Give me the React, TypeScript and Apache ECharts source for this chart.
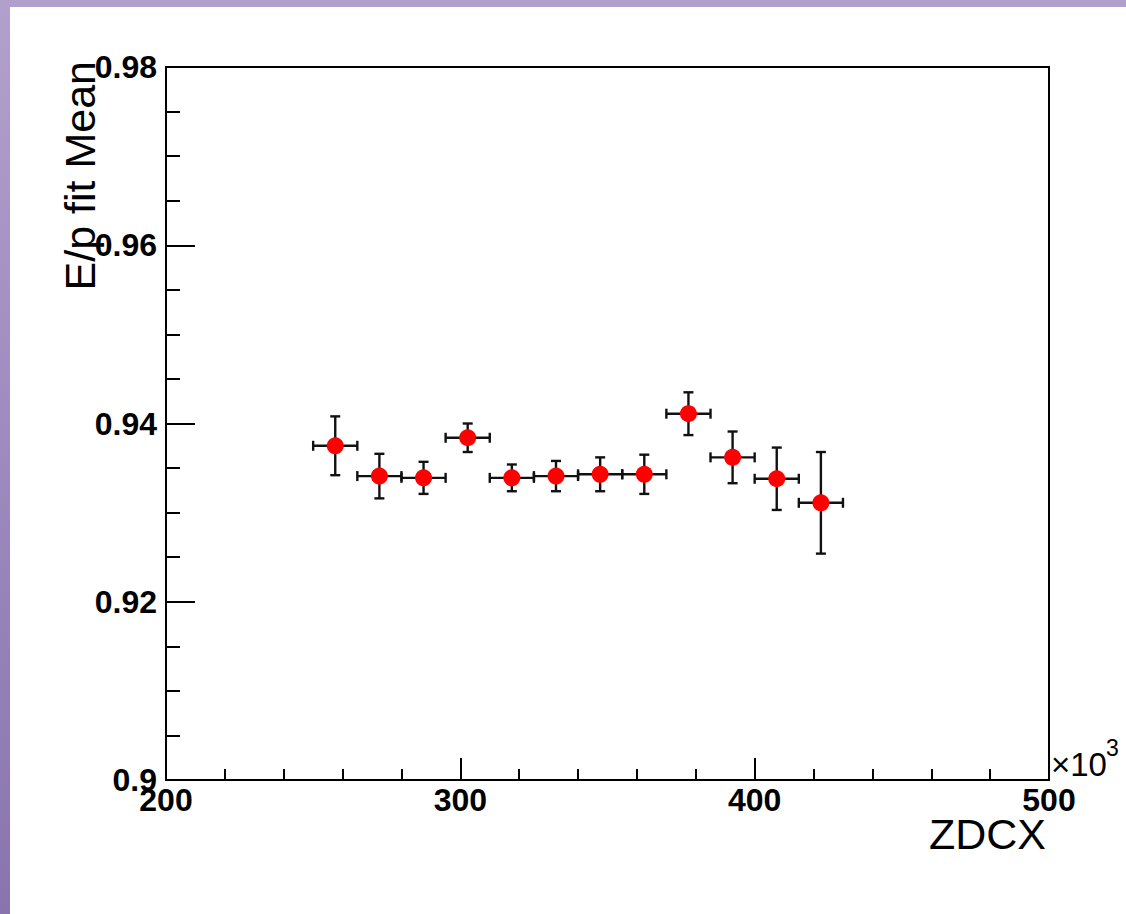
import React, { useEffect, useRef } from "react";
import * as echarts from "echarts";

// Data (x in units of 10^3, as on the axis)
const xCenters = [257.5, 272.5, 287.5, 302.5, 317.5, 332.5, 347.5, 362.5, 377.5, 392.5, 407.5, 422.5];
const xHalfWidths = [7.5, 7.5, 7.5, 7.5, 7.5, 7.5, 7.5, 7.5, 7.5, 7.5, 7.5, 7.5];
const yMeans = [0.9375, 0.9341, 0.9339, 0.9384, 0.9339, 0.9341, 0.9343, 0.9343, 0.9411, 0.9362, 0.9338, 0.9311];
const yErrors = [0.0033, 0.0025, 0.0018, 0.0016, 0.0015, 0.0017, 0.0019, 0.0022, 0.0024, 0.0029, 0.0035, 0.0057];

const xTitle = "ZDCX";
const yTitle = "E/p fit Mean";

export default function App() {
  const ref = useRef<HTMLDivElement>(null);

  useEffect(() => {
    if (!ref.current) return;
    const chart = echarts.init(ref.current, undefined, { renderer: "svg" });

    const errData = xCenters.map((x, i) => [x, yMeans[i], xHalfWidths[i], yErrors[i]]);
    const ptData = xCenters.map((x, i) => [x, yMeans[i]]);

    const cap = 5;
    const stroke = { stroke: "#111", lineWidth: 2.4 };

    chart.setOption({
      animation: false,
      backgroundColor: "#ffffff",
      grid: {
        left: 166,
        top: 67,
        width: 883,
        height: 713,
        show: true,
        borderColor: "#000",
        borderWidth: 2,
        backgroundColor: "transparent",
      },
      xAxis: {
        type: "value",
        min: 200,
        max: 500,
        interval: 100,
        axisLine: { show: true, onZero: false, lineStyle: { color: "#000", width: 2 } },
        axisTick: { show: true, inside: true, length: 22, lineStyle: { color: "#000", width: 2 } },
        minorTick: { show: true, splitNumber: 5, length: 11, lineStyle: { color: "#000", width: 2 } },
        splitLine: { show: false },
        axisLabel: {
          show: true,
          color: "#000",
          fontFamily: "Liberation Sans",
          fontWeight: "bold",
          fontSize: 32,
          margin: 4,
          showMinLabel: true,
          showMaxLabel: true,
        },
      },
      yAxis: {
        type: "value",
        min: 0.9,
        max: 0.98,
        interval: 0.02,
        axisLine: { show: true, onZero: false, lineStyle: { color: "#000", width: 2 } },
        axisTick: { show: true, inside: true, length: 29, lineStyle: { color: "#000", width: 2 } },
        minorTick: { show: true, splitNumber: 4, length: 14, lineStyle: { color: "#000", width: 2 } },
        splitLine: { show: false },
        axisLabel: {
          show: true,
          color: "#000",
          fontFamily: "Liberation Sans",
          fontWeight: "bold",
          fontSize: 32,
          margin: 9,
          showMinLabel: true,
          showMaxLabel: true,
          formatter: (v: number) => String(+v.toFixed(2)),
        },
      },
      graphic: [
        {
          type: "rect",
          left: 0,
          top: 0,
          shape: { x: 0, y: 0, width: 1126, height: 7 },
          style: { fill: "#b09ecb" },
          silent: true,
        },
        {
          type: "rect",
          left: 0,
          top: 0,
          shape: { x: 0, y: 0, width: 10, height: 914 },
          style: {
            fill: new echarts.graphic.LinearGradient(0, 0, 0, 1, [
              { offset: 0, color: "#b2a0cc" },
              { offset: 1, color: "#8a74ae" },
            ]),
          },
          silent: true,
        },
        {
          type: "text",
          x: 101,
          y: 61,
          rotation: Math.PI / 2,
          style: {
            text: yTitle,
            font: "43px 'Liberation Sans'",
            fill: "#000",
            align: "right",
            verticalAlign: "bottom",
          },
          silent: true,
        },
        {
          type: "text",
          x: 1046,
          y: 855,
          style: {
            text: xTitle,
            font: "43px 'Liberation Sans'",
            fill: "#000",
            align: "right",
            verticalAlign: "bottom",
          },
          silent: true,
        },
        {
          type: "text",
          x: 1051,
          y: 781,
          style: {
            text: "×10",
            font: "33px 'Liberation Sans'",
            fill: "#000",
            align: "left",
            verticalAlign: "bottom",
          },
          silent: true,
        },
        {
          type: "text",
          x: 1106,
          y: 736,
          style: {
            text: "3",
            font: "23px 'Liberation Sans'",
            fill: "#000",
            align: "left",
            verticalAlign: "top",
          },
          silent: true,
        },
      ],
      series: [
        {
          type: "custom",
          data: errData,
          z: 2,
          renderItem: (params: any, api: any) => {
            const x = api.value(0);
            const y = api.value(1);
            const ex = api.value(2);
            const ey = api.value(3);
            const pL = api.coord([x - ex, y]);
            const pR = api.coord([x + ex, y]);
            const pT = api.coord([x, y + ey]);
            const pB = api.coord([x, y - ey]);
            return {
              type: "group",
              children: [
                { type: "line", shape: { x1: pL[0], y1: pL[1], x2: pR[0], y2: pR[1] }, style: stroke },
                { type: "line", shape: { x1: pL[0], y1: pL[1] - cap, x2: pL[0], y2: pL[1] + cap }, style: stroke },
                { type: "line", shape: { x1: pR[0], y1: pR[1] - cap, x2: pR[0], y2: pR[1] + cap }, style: stroke },
                { type: "line", shape: { x1: pT[0], y1: pT[1], x2: pB[0], y2: pB[1] }, style: stroke },
                { type: "line", shape: { x1: pT[0] - cap, y1: pT[1], x2: pT[0] + cap, y2: pT[1] }, style: stroke },
                { type: "line", shape: { x1: pB[0] - cap, y1: pB[1], x2: pB[0] + cap, y2: pB[1] }, style: stroke },
              ],
            };
          },
        },
        {
          type: "scatter",
          data: ptData,
          z: 3,
          symbol: "circle",
          symbolSize: 17,
          itemStyle: { color: "#ff0000", opacity: 1 },
        },
      ],
    });

    return () => chart.dispose();
  }, []);

  return (
    <div
      ref={ref}
      style={{ position: "fixed", left: 0, top: 0, width: 1126, height: 914, background: "#fff" }}
    />
  );
}
